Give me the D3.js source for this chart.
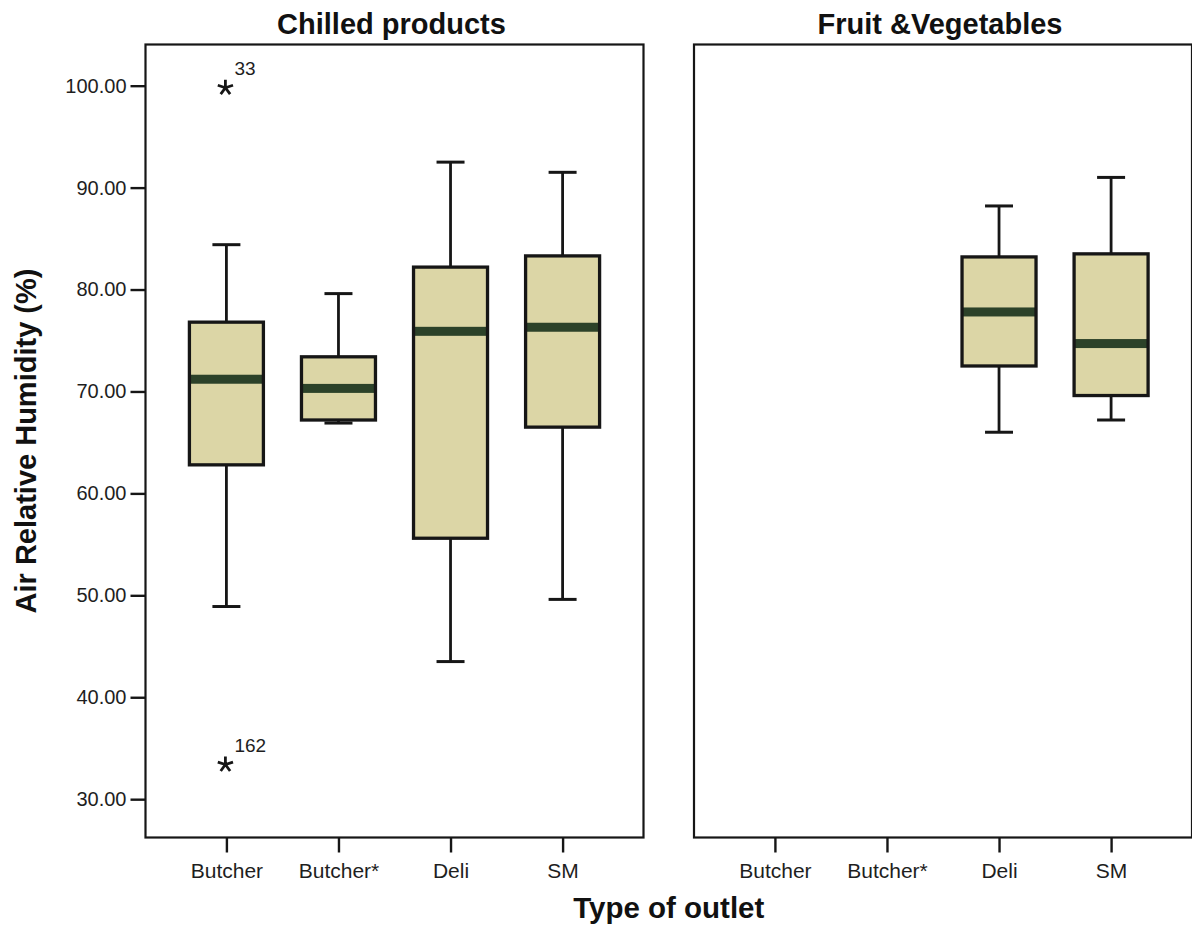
<!DOCTYPE html>
<html>
<head>
<meta charset="utf-8">
<script src="https://cdn.jsdelivr.net/npm/d3@7/dist/d3.min.js"></script>
<style>
  html, body { margin: 0; padding: 0; background: #ffffff; }
  svg { display: block; }
  text { font-family: "Liberation Sans", Arial, Helvetica, sans-serif; }
</style>
</head>
<body>
<svg id="chart" width="1192" height="931"></svg>
<script>
// ---------------- DATA ----------------
const categories = ["Butcher", "Butcher*", "Deli", "SM"];
const panelTitles = ["Chilled products", "Fruit &Vegetables"];
const yTicks = [30, 40, 50, 60, 70, 80, 90, 100];

// Chilled products (per category)
const chilledMin    = [48.9, 66.9, 43.5, 49.6];
const chilledQ1     = [62.8, 67.2, 55.6, 66.5];
const chilledMedian = [71.2, 70.3, 75.9, 76.3];
const chilledQ3     = [76.8, 73.4, 82.2, 83.3];
const chilledMax    = [84.4, 79.6, 92.5, 91.5];

// Fruit & Vegetables (no data for Butcher / Butcher*)
const fvMin    = [null, null, 66.0, 67.2];
const fvQ1     = [null, null, 72.5, 69.6];
const fvMedian = [null, null, 77.8, 74.7];
const fvQ3     = [null, null, 83.2, 83.5];
const fvMax    = [null, null, 88.2, 91.0];

// Extreme values (asterisks) with case labels
const outlierPanel    = [0, 0];
const outlierCategory = ["Butcher", "Butcher"];
const outlierValue    = [99.8, 33.4];
const outlierLabel    = ["33", "162"];

const yTitle = "Air Relative Humidity (%)";
const xTitle = "Type of outlet";

// ---------------- LAYOUT ----------------
const svg = d3.select("#chart");
const plotTop = 44.5, plotBottom = 837.5;
const panelW = 498;
const panelX = [145.5, 694];

const y = d3.scaleLinear().domain([26.24, 104.04]).range([plotBottom, plotTop]);

const boxFill = "#dcd6a6";
const medianFill = "#2c4229";
const ink = "#161616";

const panelData = [
  { min: chilledMin, q1: chilledQ1, med: chilledMedian, q3: chilledQ3, max: chilledMax },
  { min: fvMin, q1: fvQ1, med: fvMedian, q3: fvQ3, max: fvMax }
];

function asterisk(r) {
  const p = d3.path();
  for (let i = 0; i < 5; i++) {
    const a = -Math.PI / 2 + i * 2 * Math.PI / 5;
    p.moveTo(0, 0);
    p.lineTo(r * Math.cos(a), r * Math.sin(a));
  }
  return p.toString();
}

panelTitles.forEach((title, pi) => {
  const x0 = panelX[pi];
  const x = d3.scalePoint().domain(categories).range([x0, x0 + panelW]).padding(0.722);
  const g = svg.append("g");

  // title
  g.append("text")
    .attr("x", x0 + panelW / 2 - 3)
    .attr("y", 34)
    .attr("text-anchor", "middle")
    .attr("font-size", 29)
    .attr("font-weight", "bold")
    .attr("fill", "#111")
    .text(title);

  // x axis
  const xa = g.append("g")
    .attr("transform", `translate(0,${plotBottom})`)
    .call(d3.axisBottom(x).tickSize(15).tickPadding(11));
  xa.select(".domain").remove();
  xa.selectAll(".tick line").attr("stroke", ink).attr("stroke-width", 2.4);
  xa.selectAll(".tick text")
    .attr("font-size", 21)
    .attr("fill", "#1e1e1e")
    .style("font-family", "'Liberation Sans', Arial, sans-serif");

  // y axis only on first panel
  if (pi === 0) {
    const ya = g.append("g")
      .attr("transform", `translate(${x0},0)`)
      .call(d3.axisLeft(y).tickValues(yTicks).tickFormat(d3.format(".2f")).tickSize(15).tickPadding(4));
    ya.select(".domain").remove();
    ya.selectAll(".tick line").attr("stroke", ink).attr("stroke-width", 2.4);
    ya.selectAll(".tick text")
      .attr("font-size", 20)
      .attr("fill", "#1e1e1e")
      .style("font-family", "'Liberation Sans', Arial, sans-serif");
  }

  // boxes
  const d = panelData[pi];
  const boxW = 74, capW = 28;
  categories.forEach((c, ci) => {
    if (d.med[ci] == null) return;
    const cx = x(c);
    const bg = g.append("g");
    // whiskers
    bg.append("line").attr("x1", cx).attr("x2", cx)
      .attr("y1", y(d.q3[ci])).attr("y2", y(d.max[ci]))
      .attr("stroke", ink).attr("stroke-width", 2.8);
    bg.append("line").attr("x1", cx).attr("x2", cx)
      .attr("y1", y(d.q1[ci])).attr("y2", y(d.min[ci]))
      .attr("stroke", ink).attr("stroke-width", 2.8);
    bg.append("line").attr("x1", cx - capW / 2).attr("x2", cx + capW / 2)
      .attr("y1", y(d.max[ci])).attr("y2", y(d.max[ci]))
      .attr("stroke", ink).attr("stroke-width", 3);
    bg.append("line").attr("x1", cx - capW / 2).attr("x2", cx + capW / 2)
      .attr("y1", y(d.min[ci])).attr("y2", y(d.min[ci]))
      .attr("stroke", ink).attr("stroke-width", 3);
    // box fill
    bg.append("rect")
      .attr("x", cx - boxW / 2).attr("width", boxW)
      .attr("y", y(d.q3[ci])).attr("height", y(d.q1[ci]) - y(d.q3[ci]))
      .attr("fill", boxFill);
    // median band
    bg.append("rect")
      .attr("x", cx - boxW / 2).attr("width", boxW)
      .attr("y", y(d.med[ci]) - 4.5).attr("height", 9)
      .attr("fill", medianFill);
    // box outline
    bg.append("rect")
      .attr("x", cx - boxW / 2).attr("width", boxW)
      .attr("y", y(d.q3[ci])).attr("height", y(d.q1[ci]) - y(d.q3[ci]))
      .attr("fill", "none")
      .attr("stroke", ink).attr("stroke-width", 3.3);
  });

  // outliers
  outlierValue.forEach((v, oi) => {
    if (outlierPanel[oi] !== pi) return;
    const cx = x(outlierCategory[oi]);
    const cy = y(v);
    g.append("path")
      .attr("d", asterisk(8))
      .attr("transform", `translate(${cx - 1},${cy})`)
      .attr("stroke", ink).attr("stroke-width", 2.8)
      .attr("stroke-linecap", "butt")
      .attr("fill", "none");
    g.append("text")
      .attr("x", cx + 8)
      .attr("y", cy - 13)
      .attr("font-size", 19)
      .attr("fill", "#1e1e1e")
      .text(outlierLabel[oi]);
  });

  // frame
  g.append("rect")
    .attr("x", x0).attr("y", plotTop)
    .attr("width", panelW).attr("height", plotBottom - plotTop)
    .attr("fill", "none")
    .attr("stroke", ink).attr("stroke-width", 2.2);
});

// axis titles
svg.append("text")
  .attr("transform", `translate(36,${(plotTop + plotBottom) / 2}) rotate(-90)`)
  .attr("text-anchor", "middle")
  .attr("font-size", 29)
  .attr("font-weight", "bold")
  .attr("fill", "#111")
  .text(yTitle);

svg.append("text")
  .attr("x", (panelX[0] + panelX[1] + panelW) / 2)
  .attr("y", 918)
  .attr("text-anchor", "middle")
  .attr("font-size", 29.5)
  .attr("font-weight", "bold")
  .attr("fill", "#111")
  .text(xTitle);
</script>
</body>
</html>
